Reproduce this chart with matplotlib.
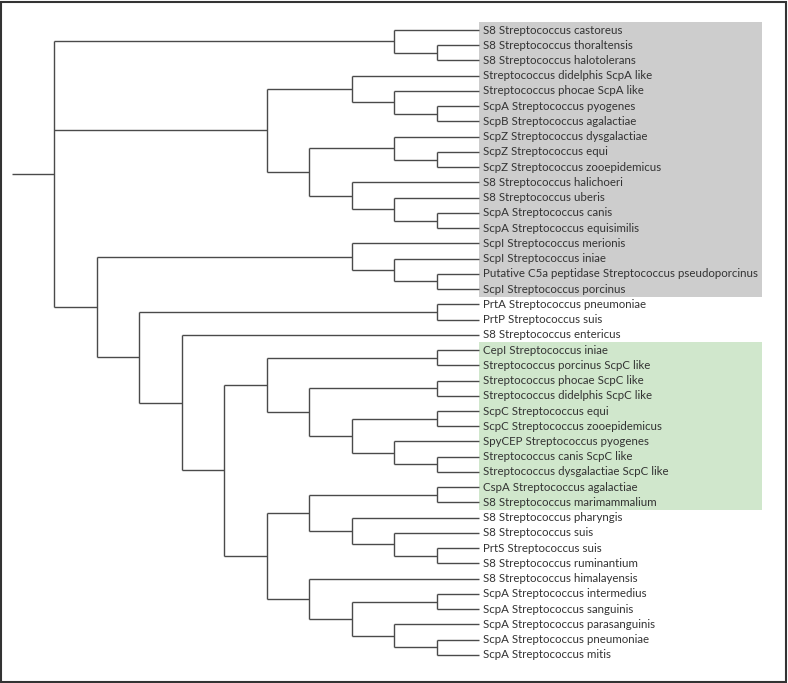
import matplotlib
matplotlib.use("Agg")
import matplotlib.pyplot as plt
from matplotlib.patches import Rectangle

# Leaf labels, top to bottom
labels = [
    "S8 Streptococcus castoreus",
    "S8 Streptococcus thoraltensis",
    "S8 Streptococcus halotolerans",
    "Streptococcus didelphis ScpA like",
    "Streptococcus phocae ScpA like",
    "ScpA Streptococcus pyogenes",
    "ScpB Streptococcus agalactiae",
    "ScpZ Streptococcus dysgalactiae",
    "ScpZ Streptococcus equi",
    "ScpZ Streptococcus zooepidemicus",
    "S8 Streptococcus halichoeri",
    "S8 Streptococcus uberis",
    "ScpA Streptococcus canis",
    "ScpA Streptococcus equisimilis",
    "ScpI Streptococcus merionis",
    "ScpI Streptococcus iniae",
    "Putative C5a peptidase Streptococcus pseudoporcinus",
    "ScpI Streptococcus porcinus",
    "PrtA Streptococcus pneumoniae",
    "PrtP Streptococcus suis",
    "S8 Streptococcus entericus",
    "CepI Streptococcus iniae",
    "Streptococcus porcinus ScpC like",
    "Streptococcus phocae ScpC like",
    "Streptococcus didelphis ScpC like",
    "ScpC Streptococcus equi",
    "ScpC Streptococcus zooepidemicus",
    "SpyCEP Streptococcus pyogenes",
    "Streptococcus canis ScpC like",
    "Streptococcus dysgalactiae ScpC like",
    "CspA Streptococcus agalactiae",
    "S8 Streptococcus marimammalium",
    "S8 Streptococcus pharyngis",
    "S8 Streptococcus suis",
    "PrtS Streptococcus suis",
    "S8 Streptococcus ruminantium",
    "S8 Streptococcus himalayensis",
    "ScpA Streptococcus intermedius",
    "ScpA Streptococcus sanguinis",
    "ScpA Streptococcus parasanguinis",
    "ScpA Streptococcus pneumoniae",
    "ScpA Streptococcus mitis",
]

# Tree topology (leaf indices into labels)
tree = [
    [0, [1, 2]],
    [[3, [4, [5, 6]]], [[7, [8, 9]], [10, [11, [12, 13]]]]],
    [[14, [15, [16, 17]]],
     [[18, 19],
      [20, [[[21, 22], [[23, 24], [[25, 26], [27, [28, 29]]]]],
            [[[30, 31], [32, [33, [34, 35]]]],
             [36, [[37, 38], [39, [40, 41]]]]]]]]],
]

# Highlighted leaf groups (first leaf, last leaf)
gray_group = (0, 17)
green_group = (21, 31)


def height(node):
    if isinstance(node, int):
        return 0
    return 1 + max(height(c) for c in node)


TOP = height(tree) + 1   # leaf level; root stub starts at 0
segments = []


def layout(node):
    # returns (x, y) of node, collects line segments
    if isinstance(node, int):
        return TOP, node
    pts = [layout(c) for c in node]
    x = TOP - height(node)
    ys = [p[1] for p in pts]
    y = (min(ys) + max(ys)) / 2
    segments.append(([x, x], [min(ys), max(ys)]))
    for cx, cy in pts:
        segments.append(([x, cx], [cy, cy]))
    return x, y


rx, ry = layout(tree)
segments.append(([0, rx], [ry, ry]))

W, H = 788, 683
fig = plt.figure(figsize=(W / 100, H / 100), dpi=100)
ax = fig.add_axes([0, 0, 1, 1])

# pixel mapping: level 0 -> x=12, spacing 42.45 px; leaf 0 -> y=30, spacing 15.24 px
dx, x0 = 42.45, 12
dy, y0 = 15.24, 30
ax.set_xlim(-x0 / dx, (W - x0) / dx)
ax.set_ylim((H - y0) / dy, -y0 / dy)
ax.axis("off")

box_right = (762 - x0) / dx
for (a, b), col in [(gray_group, "#cdcdcd"), (green_group, "#d0e7cc")]:
    ax.add_patch(Rectangle((TOP, a - 0.5), box_right - TOP, b - a + 1,
                           facecolor=col, edgecolor="none", zorder=0))

for xs, ys in segments:
    ax.plot(xs, ys, color="#4a4a4a", lw=1.0, solid_capstyle="butt", zorder=2)

for i, lab in enumerate(labels):
    ax.text(TOP + 4 / dx, i, lab, va="center", ha="left", fontsize=8.3,
            family="Lato", color="#333333", zorder=3)

fig.patches.append(Rectangle((0.001, 0.0015), 0.997, 0.996, transform=fig.transFigure,
                             fill=False, edgecolor="#333333", lw=1.5))

fig.savefig("out.png", dpi=100)
